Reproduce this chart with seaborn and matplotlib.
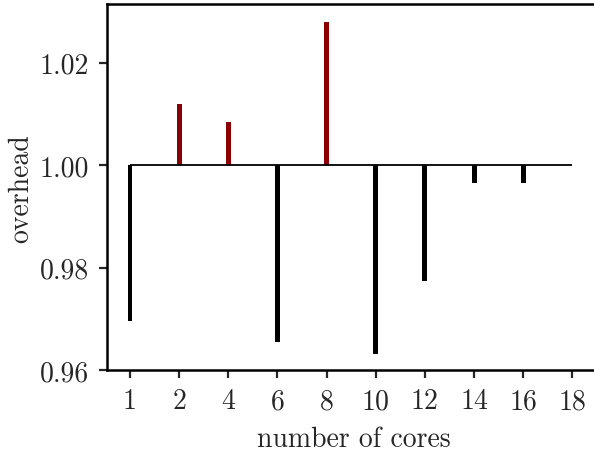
import matplotlib
matplotlib.use("Agg")
import matplotlib.pyplot as plt
import numpy as np
import pandas as pd
import seaborn as sns

# data
CORES = ["1", "2", "4", "6", "8", "10", "12", "14", "16", "18"]
OVERHEAD = [0.9695, 1.0119, 1.0084, 0.9654, 1.0279, 0.9632, 0.9774, 0.9966, 0.9966, 1.0]

sns.set_style("ticks")
plt.rcParams["font.family"] = ["cmr10", "DejaVu Serif"]
plt.rcParams["mathtext.fontset"] = "cm"
plt.rcParams["axes.formatter.use_mathtext"] = True
plt.rcParams["axes.unicode_minus"] = False

df = pd.DataFrame({"cores": CORES, "overhead": OVERHEAD})
df["delta"] = df["overhead"] - 1.0
df["side"] = np.where(df["delta"] > 0, "up", "down")

fig = plt.figure(figsize=(5.94, 4.52), dpi=100)
ax = fig.add_axes([0.180, 0.179, 0.83, 0.809])

sns.barplot(
    data=df, x="cores", y="delta", hue="side", bottom=1.0,
    palette={"up": "#8b0000", "down": "black"}, saturation=1,
    order=CORES, dodge=False, width=0.1, legend=False,
    linewidth=0, ax=ax,
)
ax.hlines(1.0, 0, len(CORES) - 1, color="black", lw=1.3, zorder=3)

ax.set_xlim(-0.47, 9.56)
ax.set_ylim(0.96, 1.0314)
ax.set_yticks([0.96, 0.98, 1.00, 1.02])
ax.set_yticklabels([f"{v:.2f}" for v in [0.96, 0.98, 1.00, 1.02]])

ax.set_xlabel("number of cores", fontsize=20, labelpad=8)
ax.set_ylabel("overhead", fontsize=20, labelpad=4)
ax.tick_params(axis="both", labelsize=20, length=6, width=1.6, direction="out")
ax.tick_params(axis="x", pad=7)
ax.tick_params(axis="y", pad=7)
for side in ["left", "top", "bottom"]:
    ax.spines[side].set_linewidth(1.8)
    ax.spines[side].set_color("black")
ax.spines["right"].set_visible(False)

fig.savefig("out.png", dpi=100)
